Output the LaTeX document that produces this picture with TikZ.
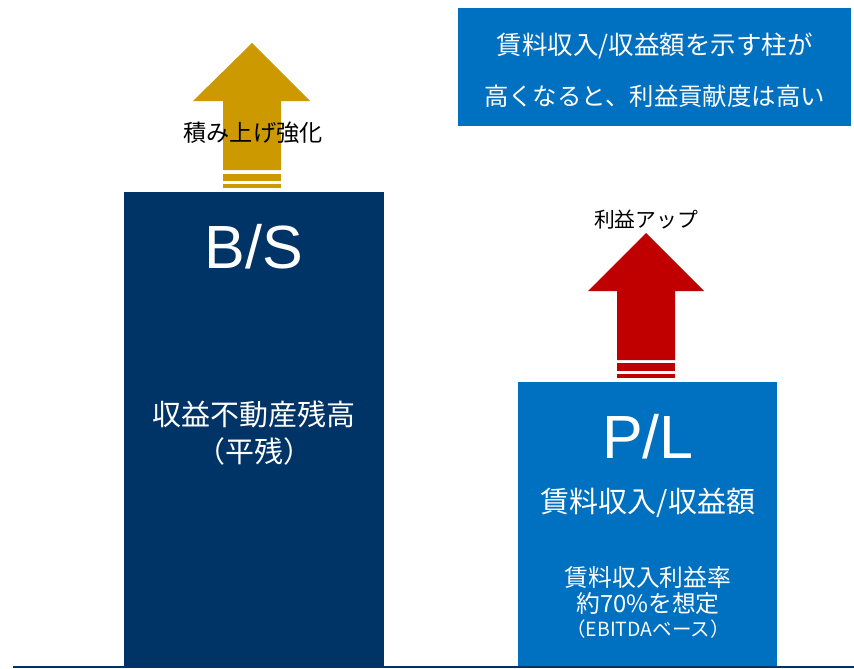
\documentclass[tikz,border=0pt]{standalone}
\usepackage{fontspec}
\setmainfont{Noto Sans CJK JP}
\newfontfamily\latinfont{Liberation Sans}
\definecolor{navy}{RGB}{0,51,102}
\definecolor{mblue}{RGB}{0,112,192}
\definecolor{gold}{RGB}{204,153,0}
\definecolor{dred}{RGB}{192,0,0}
\begin{document}
\begin{tikzpicture}[x=1pt,y=-1pt,
  txt/.style={inner sep=0pt,align=center},
  wtxt/.style={txt,text=white}]
\useasboundingbox (0,0) rectangle (854,669);
% top note box
\fill[mblue] (458,8) rectangle (851,126);
\node[wtxt,font=\fontsize{25.5}{28}\selectfont] (note1) at (654.5,46) {賃料収入/収益額を示す柱が};
\node[wtxt,font=\fontsize{24.4}{28}\selectfont] (note2) at (654.5,96) {高くなると、利益貢献度は高い};
% B/S box
\fill[navy] (124,192) rectangle (384,667);
\node[wtxt,font=\latinfont\fontsize{61}{62}\selectfont] (bs) at (254,247) {B/S};
\node[wtxt,font=\fontsize{29}{37}\selectfont] (bstxt) at (254,433) {収益不動産残高\\（平残）};
% P/L box
\fill[mblue] (518,382) rectangle (777,667);
\node[wtxt,font=\latinfont\fontsize{61}{62}\selectfont] (pl) at (648,437) {P/L};
\node[wtxt,font=\fontsize{29}{30}\selectfont] (pltxt) at (648,503) {賃料収入/収益額};
\node[wtxt,font=\fontsize{23.8}{26}\selectfont] (rate) at (648,590) {賃料収入利益率\\約70\%を想定};
\node[wtxt,font=\fontsize{19.5}{20}\selectfont] (ebitda) at (648,629) {（EBITDAベース）};
% gold arrow
\fill[gold] (252,43) -- (310,101) -- (281,101) -- (281,170) -- (223,170) -- (223,101) -- (193,101) -- cycle;
\fill[gold] (223,174) rectangle (281,181);
\fill[gold] (223,184) rectangle (281,188);
\node[txt,font=\fontsize{23.2}{24}\selectfont] (acc) at (253,133) {積み上げ強化};
% red arrow
\fill[dred] (646,233) -- (704,291) -- (675,291) -- (675,360) -- (617,360) -- (617,291) -- (588,291) -- cycle;
\fill[dred] (617,363) rectangle (675,371);
\fill[dred] (617,374) rectangle (675,378);
\node[txt,font=\fontsize{20.8}{22}\selectfont] (up) at (646,220) {利益アップ};
% baseline
\coordinate (l0) at (13,667);
\coordinate (l1) at (854,667);
\draw[navy,line width=2pt] (l0) -- (l1);
\end{tikzpicture}
\end{document}
